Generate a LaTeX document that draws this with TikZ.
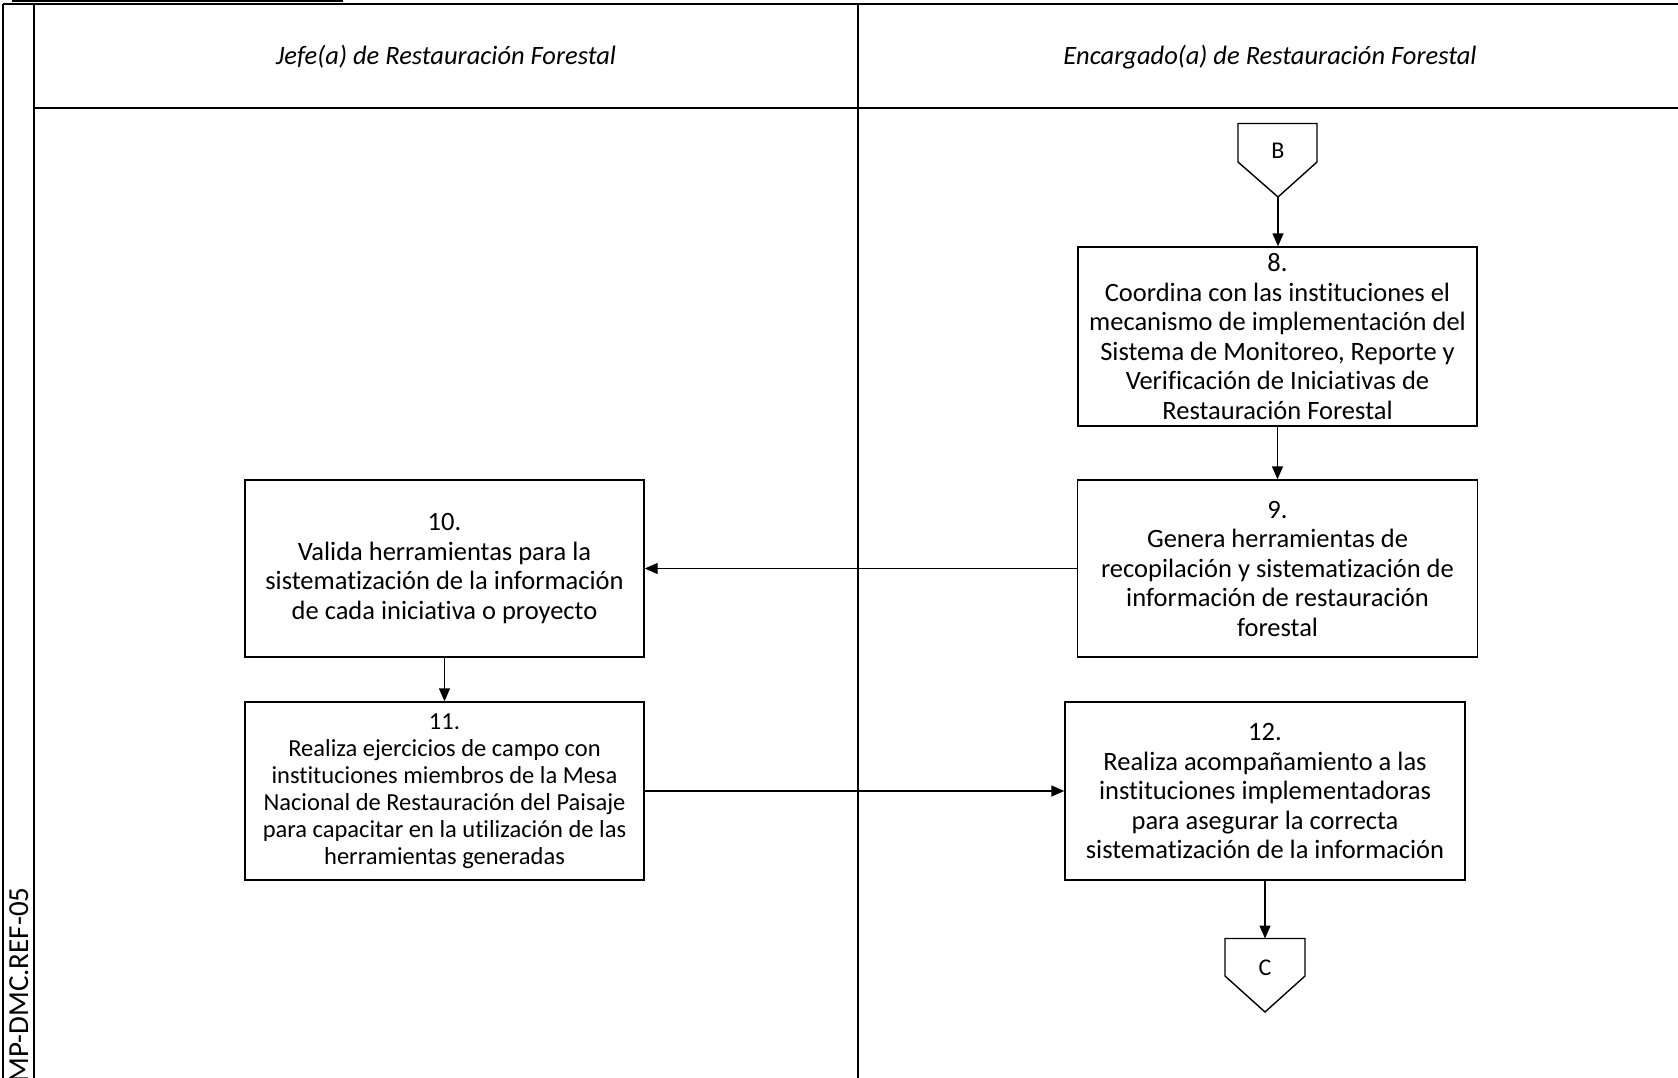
\documentclass[tikz,border=0pt]{standalone}
\usepackage{fontspec}
\setmainfont{Carlito}[Ligatures=NoCommon]
\usetikzlibrary{arrows.meta}
\begin{document}
\begin{tikzpicture}[x=1pt,y=-1pt,
  stepbox/.style={draw, line width=1.4pt, align=center, inner sep=0pt, font=\fontsize{26.5}{29.5}\selectfont},
  smallbox/.style={stepbox, font=\fontsize{24.5}{27}\selectfont},
  flow/.style={line width=1.4pt, -{Triangle[length=13pt,width=11pt]}},
  frameline/.style={line width=2pt},
  offpage/.style={line width=1.4pt},
  lanehead/.style={font=\fontsize{26.5}{30}\selectfont\itshape},
  conlabel/.style={font=\fontsize{24}{28}\selectfont}]
\useasboundingbox (0,0) rectangle (1678,1078);
\clip (0,0) rectangle (1678,1078);
% frame
\draw[line width=2.5pt] (12,0.5) -- (343,0.5);
\draw[frameline] (3,4.5) -- (1680,4.5);
\draw[frameline] (3,4.5) -- (3,1080);
\draw[frameline] (34,4.5) -- (34,1080);
\draw[frameline] (34,108) -- (1680,108);
\draw[frameline] (858,4.5) -- (858,1080);
% lane headers
\node[lanehead] (h1) at (446,57) {Jefe(a) de Restauración Forestal};
\node[lanehead] (h2) at (1270,57) {Encargado(a) de Restauración Forestal};
% side code
\node[rotate=90, anchor=base east, font=\fontsize{29}{34}\selectfont] (code) at (28,884) {MP-DMC.REF-05};
% off-page connector B
\draw[offpage] (1238,123.5) -- (1317,123.5) -- (1317,162) -- (1278,197) -- (1238,162) -- cycle;
\node[conlabel] (B) at (1278,151) {B};
\coordinate (Btip) at (1278,197);
% steps
\node[stepbox, minimum width=399pt, minimum height=179pt] (s8) at (1277.5,336.5)
  {8.\\Coordina con las instituciones el\\mecanismo de implementación del\\Sistema de Monitoreo, Reporte y\\Verificación de Iniciativas de\\Restauración Forestal};
\node[stepbox, minimum width=400pt, minimum height=177pt] (s9) at (1277.5,568.5)
  {9.\\Genera herramientas de\\recopilación y sistematización de\\información de restauración\\forestal};
\node[stepbox, minimum width=399pt, minimum height=177pt] (s10) at (444.5,568.5)
  {10.\\Valida herramientas para la\\sistematización de la información\\de cada iniciativa o proyecto};
\node[smallbox, minimum width=399pt, minimum height=178pt] (s11) at (444.5,791)
  {11.\\Realiza ejercicios de campo con\\instituciones miembros de la Mesa\\Nacional de Restauración del Paisaje\\para capacitar en la utilización de las\\herramientas generadas};
\node[stepbox, minimum width=400pt, minimum height=178pt] (s12) at (1265,791)
  {12.\\Realiza acompañamiento a las\\instituciones implementadoras\\para asegurar la correcta\\sistematización de la información};
% off-page connector C
\draw[offpage] (1225,938.5) -- (1305,938.5) -- (1305,976) -- (1265,1012) -- (1225,976) -- cycle;
\node[conlabel] (C) at (1265,968) {C};
\coordinate (Ctop) at (1265,938.5);
% connectors
\draw[flow] (Btip) -- (Btip |- s8.north);
\draw[flow] (s8.south) -- (s9.north);
\draw[flow] (s9.west) -- (s10.east);
\draw[flow] (s10.south) -- (s11.north);
\draw[flow] (s11.east) -- (s12.west);
\draw[flow] (s12.south) -- (Ctop);
\end{tikzpicture}
\end{document}
